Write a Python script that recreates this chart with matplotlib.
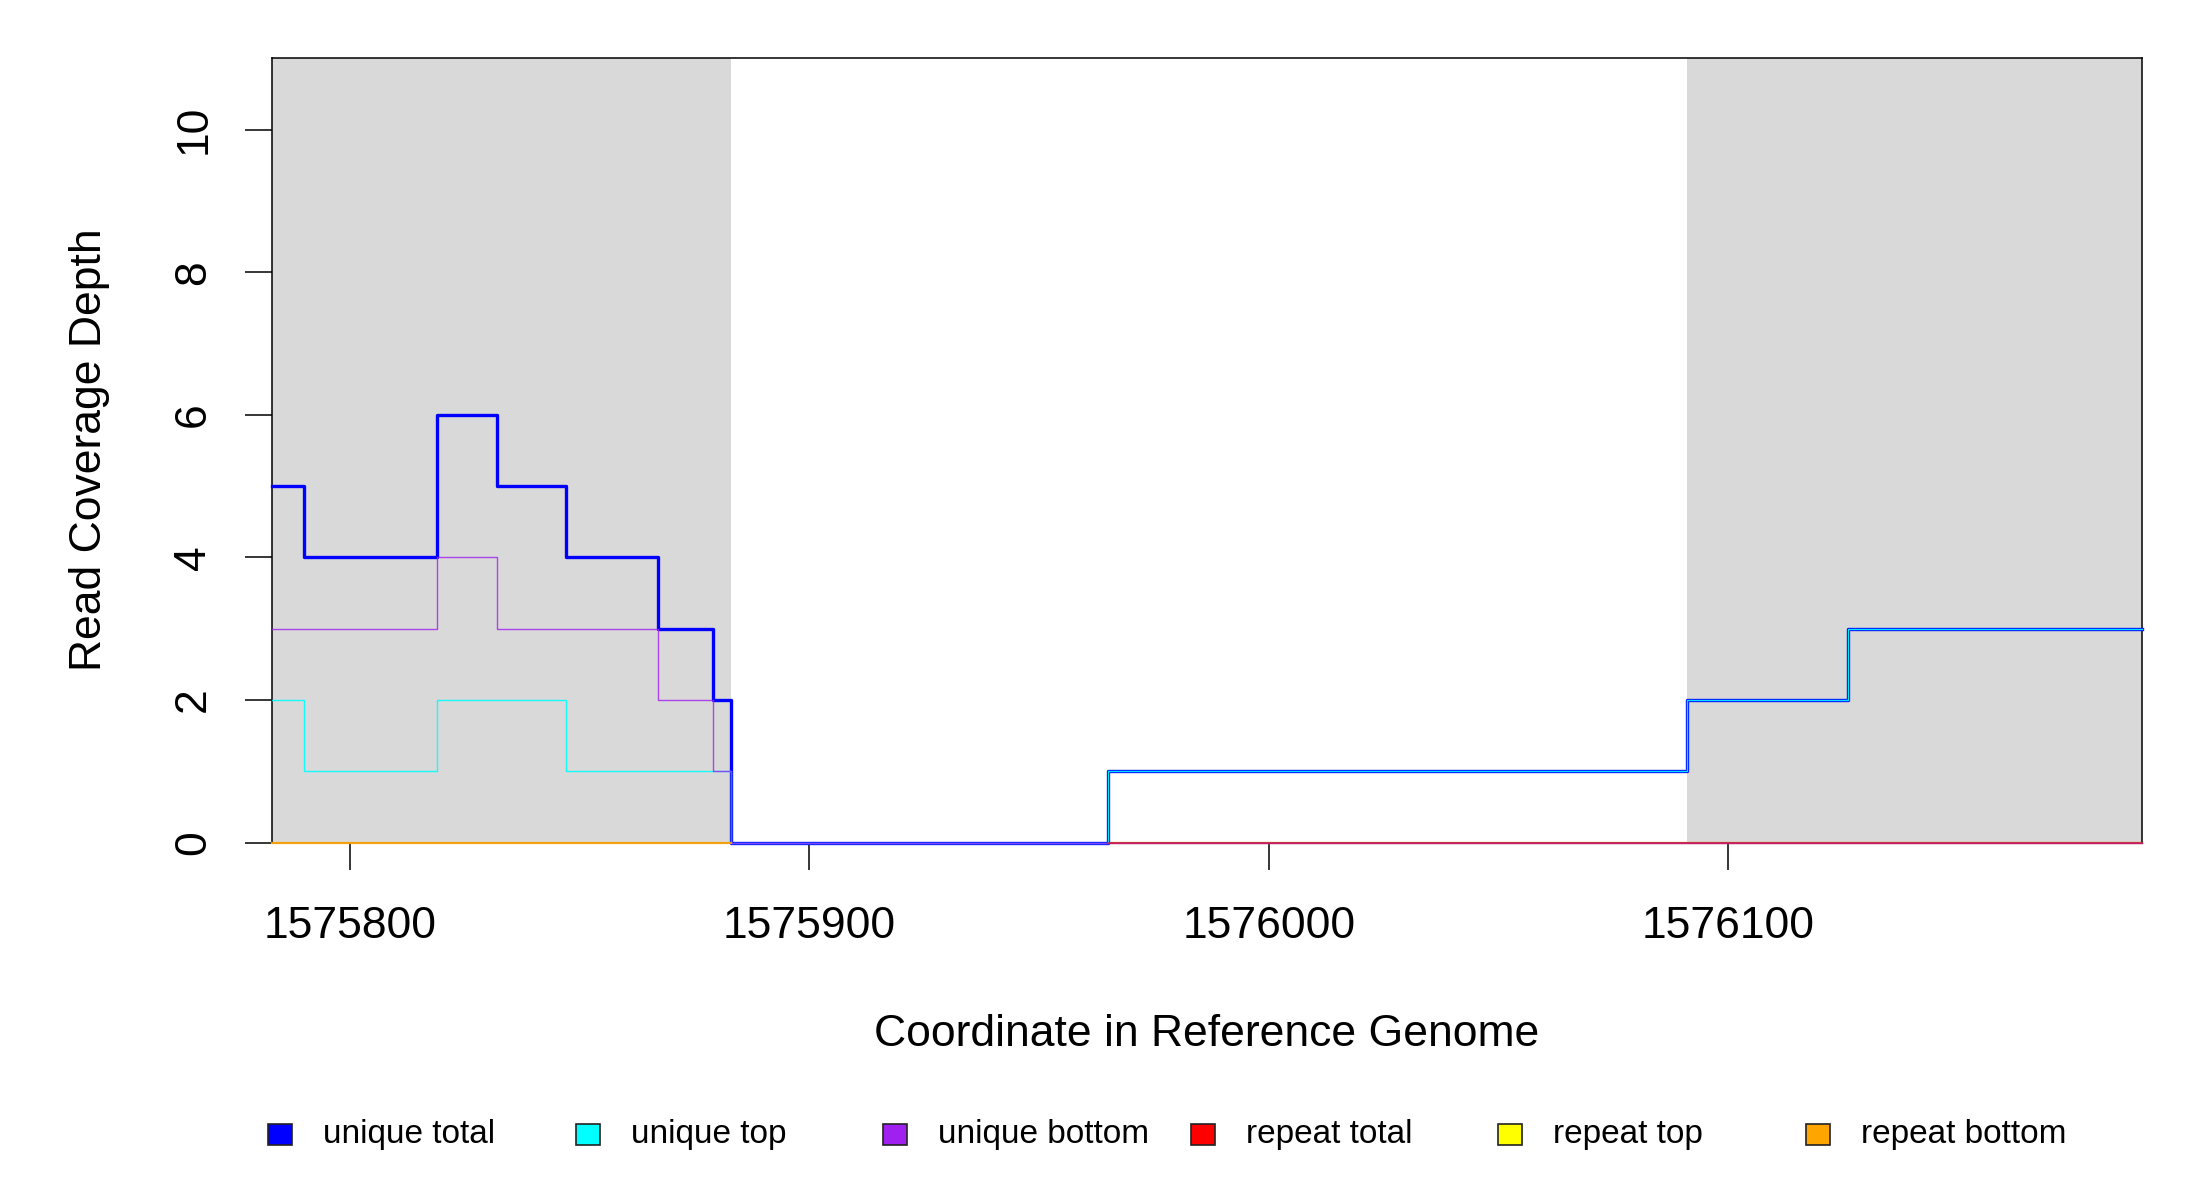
import numpy as np
import matplotlib
matplotlib.use("Agg")
import matplotlib.pyplot as plt
from matplotlib.patches import Rectangle

plt.rcParams['font.family'] = ['Liberation Sans', 'DejaVu Sans']

# ---- data ----
edges = [1575783, 1575790, 1575819, 1575832, 1575847, 1575867, 1575879,
         1575883, 1575965, 1576091, 1576126, 1576190]
unique_total = [5, 4, 6, 5, 4, 3, 2, 0, 1, 2, 3]
unique_top = [2, 1, 2, 2, 1, 1, 1, 0, 1, 2, 3]
unique_bottom = [3, 3, 4, 3, 3, 2, 1, 0, 0, 0, 0]
nan = np.nan
repeat_total = [nan, nan, nan, nan, nan, nan, nan, nan, 0, 0, 0]
repeat_top = [nan, nan, nan, nan, nan, nan, nan, nan, 0, 0, 0]
repeat_bottom = [0, 0, 0, 0, 0, 0, 0, nan, nan, nan, nan]

shade_starts = [1575783, 1576091]
shade_ends = [1575883, 1576190]

x_ticks = [1575800, 1575900, 1576000, 1576100]
y_ticks = [0, 2, 4, 6, 8, 10]

legend_labels = ["unique total", "unique top", "unique bottom",
                 "repeat total", "repeat top", "repeat bottom"]
legend_colors = ["#0000ff", "#00ffff", "#a020f0", "#ff0000", "#ffff00", "#ffa500"]

# ---- figure ----
fig = plt.figure(figsize=(11, 6), dpi=200)
ax = fig.add_axes([0.1235, 0.2979, 0.85, 0.6535])

for s, e in zip(shade_starts, shade_ends):
    ax.axvspan(s, e, color="#d9d9d9", lw=0, zorder=0)

def stepline(vals, **kw):
    y = list(vals) + [vals[-1]]
    ax.step(edges, y, where="post", clip_on=False, **kw)

stepline(repeat_top, color="#ffff00", lw=0.8, alpha=0.7, zorder=2)
stepline(unique_total, color="#0000ff", lw=1.2, zorder=3)
stepline(unique_top, color="#00ffff", lw=0.5, alpha=0.9, zorder=4)
stepline(unique_bottom, color="#a020f0", lw=0.5, alpha=0.8, zorder=4)
stepline(repeat_total, color="#e01030", lw=0.8, alpha=0.65, zorder=5)
stepline(repeat_bottom, color="#ffa500", lw=0.8, alpha=0.9, zorder=5)

ax.set_xlim(edges[0], edges[-1])
ax.set_ylim(0, 11)
ax.set_xticks(x_ticks)
ax.set_xticklabels([str(t) for t in x_ticks])
ax.set_yticks(y_ticks)
ax.set_yticklabels([str(t) for t in y_ticks], rotation=90, va="center")
ax.tick_params(axis="both", direction="out", length=9.7, width=0.55,
               labelsize=16, color="black")
ax.tick_params(axis="x", pad=13)
ax.tick_params(axis="y", pad=11)
for sp in ax.spines.values():
    sp.set_linewidth(0.55)
    sp.set_color("black")
    sp.set_zorder(2)
ax.spines["bottom"].set_color("#666666")

fig.text(0.5485, 1 - 1035 / 1200, "Coordinate in Reference Genome",
         ha="center", va="center", fontsize=16)
fig.text(90 / 2200, 1 - 450 / 1200, "Read Coverage Depth",
         ha="center", va="center", fontsize=16, rotation=90)

# ---- legend (bottom row) ----
sq_w, sq_h = 24 / 2200, 21 / 1200
leg_y = 1 - 1134 / 1200
x0 = 268 / 2200
dx = 307.6 / 2200
for i, (lab, col) in enumerate(zip(legend_labels, legend_colors)):
    lx = x0 + i * dx
    fig.patches.append(Rectangle((lx, leg_y - sq_h / 2), sq_w, sq_h,
                                 transform=fig.transFigure, facecolor=col,
                                 edgecolor="#222222", lw=0.6))
    fig.text(lx + 55 / 2200, leg_y, lab, ha="left", va="center", fontsize=12)

fig.savefig("out.png", dpi=200)
